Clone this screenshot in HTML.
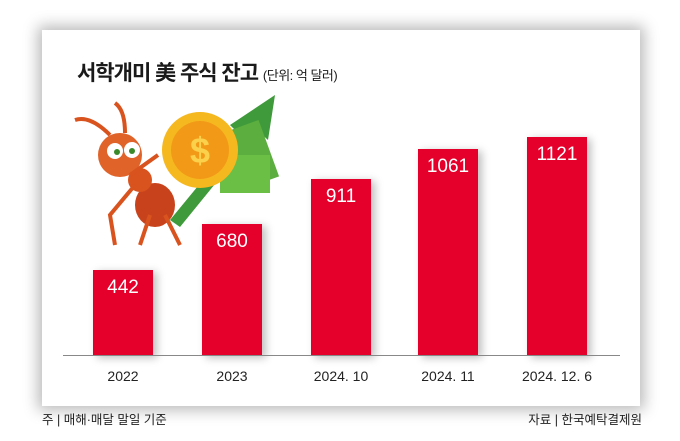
<!DOCTYPE html>
<html><head><meta charset="utf-8"><style>
body{margin:0;width:680px;height:441px;background:#fff;position:relative;overflow:hidden;font-family:"Liberation Sans","Noto Sans CJK KR",sans-serif}
.card{position:absolute;left:42px;top:30px;width:598px;height:376px;background:#fff;box-shadow:0 0 14px 4px rgba(0,0,0,.28)}
.t{position:absolute;left:77px;top:57px;font-size:21px;font-weight:bold;color:#1a1a1a;letter-spacing:-1px}
.t span{font-size:13px;font-weight:normal;letter-spacing:-.5px}
.bar{position:absolute;width:60px;background:#e4002b;box-shadow:4px 2px 8px rgba(0,0,0,.25);color:#fff;font-size:19px;text-align:center;padding-top:7px;box-sizing:border-box}
.lbl{position:absolute;top:368px;width:120px;text-align:center;font-size:14px;color:#222}
.base{position:absolute;left:63px;top:355px;width:557px;height:1px;background:#888}
.f{position:absolute;top:409px;font-size:12.5px;color:#222}
</style></head><body>
<div class="card"></div>
<div class="t">서학개미 美 주식 잔고 <span>(단위: 억 달러)</span></div>
<svg style="position:absolute;left:70px;top:95px" width="210" height="160">
<polygon points="100,125 170,40 160,30 205,0 198,45 188,36 110,132" fill="#3e9a3a"/>
<rect x="160" y="30" width="40" height="60" fill="#5cae3e" transform="rotate(-20 180 60)"/>
<rect x="150" y="60" width="50" height="38" fill="#6bbf45"/>
<circle cx="130" cy="55" r="38" fill="#f6b81f"/><circle cx="130" cy="55" r="29" fill="#f29a18"/>
<text x="130" y="68" font-size="36" font-weight="bold" fill="#fbd04a" text-anchor="middle" font-family="Liberation Sans">$</text>
<ellipse cx="85" cy="110" rx="20" ry="22" fill="#c8431c"/>
<ellipse cx="70" cy="85" rx="12" ry="12" fill="#d9531f"/>
<ellipse cx="50" cy="60" rx="22" ry="22" fill="#e0632a"/>
<circle cx="45" cy="56" r="8" fill="#fff"/><circle cx="62" cy="55" r="8" fill="#fff"/>
<circle cx="47" cy="57" r="3" fill="#3a8a2a"/><circle cx="62" cy="56" r="3" fill="#3a8a2a"/>
<path d="M40,40 Q20,20 5,25 M55,38 Q55,15 45,8 M65,90 L40,120 L45,150 M80,120 L70,150 M95,120 L110,150 M60,80 L88,60" stroke="#d9531f" stroke-width="4" fill="none"/>
</svg>
<div class="bar" style="left:93px;top:270px;height:86px">442</div>
<div class="bar" style="left:202px;top:224px;height:132px">680</div>
<div class="bar" style="left:311px;top:179px;height:177px">911</div>
<div class="bar" style="left:418px;top:149px;height:207px">1061</div>
<div class="bar" style="left:527px;top:137px;height:219px">1121</div>
<div class="base"></div>
<div class="lbl" style="left:63px">2022</div>
<div class="lbl" style="left:172px">2023</div>
<div class="lbl" style="left:281px">2024. 10</div>
<div class="lbl" style="left:388px">2024. 11</div>
<div class="lbl" style="left:497px">2024. 12. 6</div>
<div class="f" style="left:42px">주 | 매해·매달 말일 기준</div>
<div class="f" style="right:38px">자료 | 한국예탁결제원</div>
</body></html>
